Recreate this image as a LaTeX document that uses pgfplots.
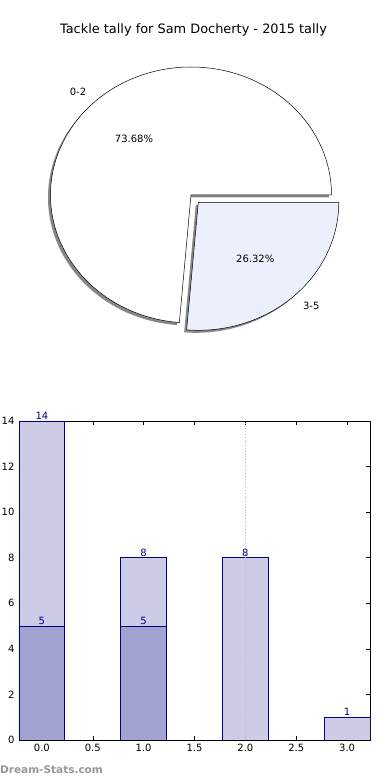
\documentclass[border=0pt]{standalone}
\usepackage{pgfplots}
\pgfplotsset{compat=1.18}
\usepackage{fontspec}
\setmainfont{DejaVu Sans}
\definecolor{barlight}{RGB}{204,204,230}
\definecolor{bardark}{RGB}{163,163,209}
\definecolor{edgenavy}{RGB}{0,0,128}
\definecolor{slicetwo}{RGB}{235,240,252}
\definecolor{shadowgray}{RGB}{135,135,135}
\definecolor{wmgray}{RGB}{150,150,150}
\begin{document}
\begin{tikzpicture}[x=1pt,y=1pt]
\useasboundingbox (0pt,0pt) rectangle (390pt,780pt);
% title
\node[font=\fontsize{12.9}{15}\selectfont, anchor=center] at (193.5pt,750pt) {Tackle tally for Sam Docherty - 2015 tally};
% ---------- pie ----------
\pgfmathsetmacro{\pA}{73.68}
\pgfmathsetmacro{\pB}{26.32}
\pgfmathsetmacro{\angA}{3.6*\pA}
\begin{axis}[
  at={(0pt,390pt)}, anchor=south west,
  x=1pt, y=1pt, scale only axis,
  xmin=-191, xmax=199, ymin=-195, ymax=195,
  hide axis, clip=false, disabledatascaling,
]
% shadows
\fill[shadowgray] ([shift={(-2.5pt,-2.5pt)}]axis cs:0,0) -- ++(140.5pt,0pt) arc[start angle=0, end angle=\angA, x radius=140.5pt, y radius=128pt] -- cycle;
\fill[shadowgray] ([shift={(4.8pt,-9.8pt)}]axis cs:0,0) -- ++({140.5*cos(\angA)*1pt},{128*sin(\angA)*1pt}) arc[start angle=\angA, end angle=360, x radius=140.5pt, y radius=128pt] -- cycle;
% slices
\filldraw[fill=white, draw=black, line width=0.5pt] (axis cs:0,0) -- ++(140.5pt,0pt) arc[start angle=0, end angle=\angA, x radius=140.5pt, y radius=128pt] -- cycle;
\filldraw[fill=slicetwo, draw=black, line width=0.5pt] ([shift={(7.3pt,-7.3pt)}]axis cs:0,0) -- ++({140.5*cos(\angA)*1pt},{128*sin(\angA)*1pt}) arc[start angle=\angA, end angle=360, x radius=140.5pt, y radius=128pt] -- cycle;
% labels
\node[font=\fontsize{10}{12}\selectfont, anchor=east, inner sep=0pt] at (axis cs:-104.6,103.6) {0-2};
\node[font=\fontsize{10}{12}\selectfont, inner sep=0pt] at (axis cs:-57,56.5) {73.68\%};
\node[font=\fontsize{10}{12}\selectfont, inner sep=0pt] at (axis cs:64.3,-63.8) {26.32\%};
\node[font=\fontsize{10}{12}\selectfont, anchor=west, inner sep=0pt] at (axis cs:111.9,-110.9) {3-5};
\end{axis}
% ---------- bars ----------
\begin{axis}[
  at={(19pt,40pt)}, anchor=south west,
  width=351pt, height=319pt, scale only axis,
  xmin=-0.225, xmax=3.225, ymin=0, ymax=14,
  xtick={0,0.5,1,1.5,2,2.5,3},
  xticklabels={0.0,0.5,1.0,1.5,2.0,2.5,3.0},
  ytick={0,2,4,6,8,10,12,14},
  tick align=inside, tick pos=both,
  major tick length=4pt,
  every tick/.style={black, line width=0.5pt},
  axis line style={black, line width=0.8pt},
  ticklabel style={font=\fontsize{10}{12}\selectfont},
  /pgf/number format/assume math mode=true,
  yticklabel style={xshift=-1pt},
  xticklabel style={yshift=-1pt},
  nodes near coords,
  every node near coord/.append style={font=\fontsize{10}{12}\selectfont, text=edgenavy, inner sep=1pt},
]
\addplot[ybar, bar width=0.45, fill=barlight, draw=edgenavy, line width=0.7pt] coordinates {(0,14) (1,8) (2,8) (3,1)};
\addplot[ybar, bar width=0.45, fill=bardark, draw=edgenavy, line width=0.7pt] coordinates {(0,5) (1,5)};
\addplot[gray!50, dotted, line width=0.8pt, nodes near coords={}] coordinates {(2,0) (2,14)};
\end{axis}
% watermark
\node[font=\bfseries\fontsize{10.5}{12}\selectfont, text=wmgray, anchor=west, inner sep=0pt] at (0pt,10pt) {Dream-Stats.com};
\end{tikzpicture}
\end{document}
